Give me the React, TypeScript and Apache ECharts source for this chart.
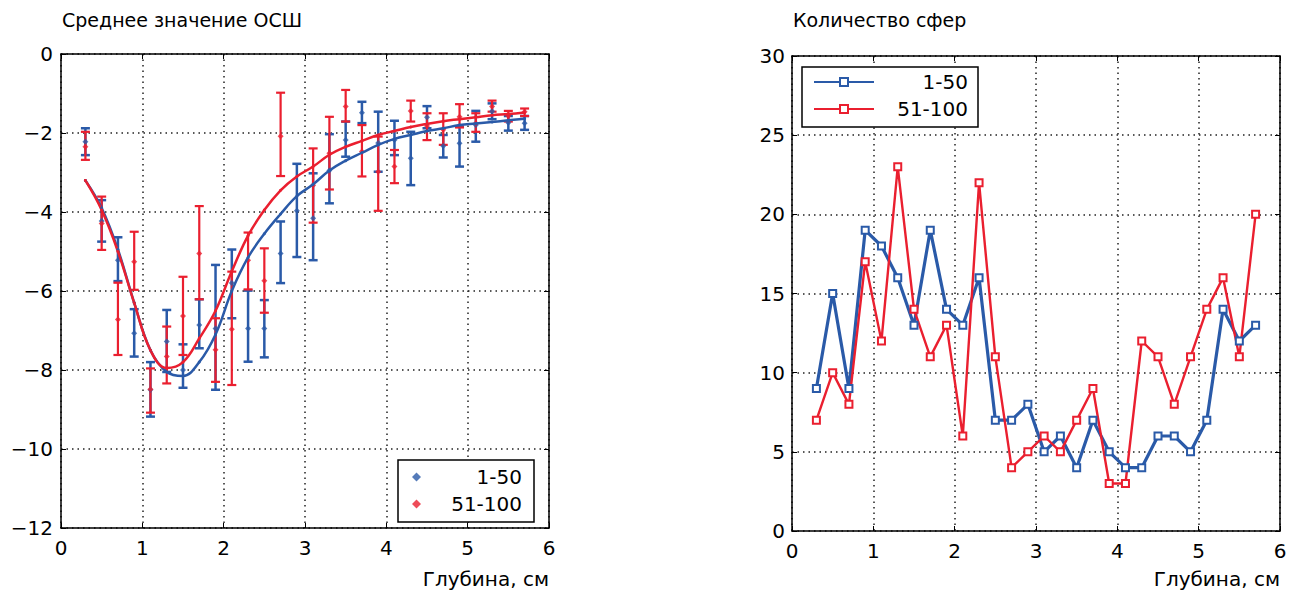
import React, { useEffect, useRef } from 'react';
import * as echarts from 'echarts';

// Depth positions (cm)
const depth = [0.3, 0.5, 0.7, 0.9, 1.1, 1.3, 1.5, 1.7, 1.9, 2.1, 2.3, 2.5, 2.7, 2.9, 3.1, 3.3, 3.5, 3.7, 3.9, 4.1, 4.3, 4.5, 4.7, 4.9, 5.1, 5.3, 5.5, 5.7];

// Left chart: mean SNR, group 1-50
const snrMean1 = [-2.22, -4.23, -5.22, -7.07, -8.5, -7.28, -8.0, -6.86, -6.95, -5.8, -6.95, -6.95, -5.05, -3.97, -4.16, -2.95, -2.18, -1.49, -2.25, -2.18, -2.64, -1.6, -2.33, -2.26, -1.8, -1.45, -1.74, -1.75];
const snrUpper1 = [-1.88, -3.7, -4.64, -6.46, -7.8, -6.48, -7.35, -6.21, -5.34, -4.95, -5.99, -6.23, -4.24, -2.78, -3.02, -2.03, -1.71, -1.21, -1.46, -1.69, -1.97, -1.32, -2.05, -1.84, -1.44, -1.25, -1.57, -1.57];
const snrLower1 = [-2.56, -4.75, -5.75, -7.66, -9.18, -8.05, -8.45, -7.45, -8.5, -6.69, -7.79, -7.68, -5.8, -5.14, -5.22, -3.78, -2.6, -1.75, -2.98, -2.56, -3.32, -1.88, -2.62, -2.85, -2.22, -1.65, -1.94, -1.92];

// Left chart: mean SNR, group 51-100
const snrMean2 = [-2.35, -4.29, -6.72, -5.26, -8.49, -7.66, -6.63, -5.05, -7.49, -6.97, -5.22, -5.74, -2.08, null, -3.32, -2.51, -1.33, -2.47, -2.98, -2.85, -1.44, -1.82, -1.92, -1.59, -1.75, -1.33, -1.57, -1.46];
const snrUpper2 = [-1.97, -3.61, -5.79, -4.5, -7.96, -6.9, -5.64, -3.85, -6.69, -5.51, -4.52, -4.92, -0.98, null, -2.39, -1.59, -0.91, -1.8, -2.09, -2.43, -1.18, -1.5, -1.5, -1.27, -1.5, -1.18, -1.44, -1.38];
const snrLower2 = [-2.68, -4.96, -7.62, -5.97, -9.08, -8.34, -7.62, -6.21, -8.3, -8.38, -5.96, -6.55, -3.09, null, -4.27, -3.43, -1.71, -3.1, -3.97, -3.27, -1.71, -2.18, -2.3, -1.86, -1.97, -1.46, -1.71, -1.57];

// Left chart: fitted curves
const snrFit1 = [-3.2, -3.9, -4.95, -6.3, -7.5, -8.05, -8.15, -7.8, -7.1, -6.0, -5.15, -4.55, -4.05, -3.6, -3.3, -2.95, -2.7, -2.5, -2.3, -2.15, -2.05, -1.95, -1.88, -1.8, -1.76, -1.72, -1.68, -1.64];
const snrFit2 = [-3.2, -3.95, -5.0, -6.3, -7.5, -7.95, -7.8, -7.2, -6.5, -5.5, -4.6, -3.95, -3.45, -3.1, -2.85, -2.55, -2.35, -2.2, -2.05, -1.95, -1.85, -1.77, -1.7, -1.65, -1.6, -1.55, -1.52, -1.48];

// Right chart: number of spheres
const count1 = [9, 15, 9, 19, 18, 16, 13, 19, 14, 13, 16, 7, 7, 8, 5, 6, 4, 7, 5, 4, 4, 6, 6, 5, 7, 14, 12, 13];
const count2 = [7, 10, 8, 17, 12, 23, 14, 11, 13, 6, 22, 11, 4, 5, 6, 5, 7, 9, 3, 3, 12, 11, 8, 11, 14, 16, 11, 20];

const legendLabels: Record<string, string> = { a1: '1-50', a2: '51-100', b1: '1-50', b2: '51-100' };
const titleLeft = 'Среднее значение ОСШ';
const titleRight = 'Количество сфер';
const xName = 'Глубина, см';

const BLUE = '#2a5aa8';
const RED = '#ea1f2f';
const FONT = '"DejaVu Sans", "Liberation Sans", sans-serif';

function errorBars(name: string, mean: (number | null)[], lo: (number | null)[], hi: (number | null)[], color: string, width: number) {
  const data = depth
    .map((d, i) => (mean[i] == null ? null : [d, mean[i], lo[i], hi[i]]))
    .filter((v) => v !== null);
  return {
    type: 'custom',
    name,
    xAxisIndex: 0,
    yAxisIndex: 0,
    data,
    encode: { x: 0, y: [1, 2, 3] },
    z: 2,
    renderItem: (params: any, api: any) => {
      const x = api.value(0);
      const top = api.coord([x, api.value(3)]);
      const bot = api.coord([x, api.value(2)]);
      const hw = 4.5;
      const style = { stroke: color, lineWidth: width, fill: 'none' };
      return {
        type: 'group',
        children: [
          { type: 'line', shape: { x1: top[0], y1: top[1], x2: bot[0], y2: bot[1] }, style },
          { type: 'line', shape: { x1: top[0] - hw, y1: top[1], x2: top[0] + hw, y2: top[1] }, style },
          { type: 'line', shape: { x1: bot[0] - hw, y1: bot[1], x2: bot[0] + hw, y2: bot[1] }, style },
        ],
      };
    },
  };
}

const axisLabelStyle = { fontSize: 20, color: '#000', fontFamily: FONT };
const dotted = { show: true, lineStyle: { color: '#222', type: [1.5, 4], width: 1.5 } };
const axLine = { show: true, onZero: false, lineStyle: { color: '#000', width: 1.5 } };
const tick = { show: true, inside: true, length: 5, lineStyle: { color: '#000', width: 1 } };

function xAxes(grid: number) {
  return [
    {
      gridIndex: grid, type: 'value', min: 0, max: 6, interval: 1, position: 'bottom',
      axisLine: axLine, axisTick: tick, splitLine: dotted,
      axisLabel: { ...axisLabelStyle, margin: 10 },
    },
    {
      gridIndex: grid, type: 'value', min: 0, max: 6, interval: 1, position: 'top',
      axisLine: axLine, axisTick: tick, splitLine: { show: false }, axisLabel: { show: false },
    },
  ];
}

function yAxes(grid: number, min: number, max: number, interval: number, margin: number) {
  return [
    {
      gridIndex: grid, type: 'value', min, max, interval, position: 'left',
      axisLine: axLine, axisTick: tick, splitLine: dotted,
      axisLabel: { ...axisLabelStyle, margin, formatter: (v: number) => String(v).replace('-', '\u2212') },
    },
    {
      gridIndex: grid, type: 'value', min, max, interval, position: 'right',
      axisLine: axLine, axisTick: tick, splitLine: { show: false }, axisLabel: { show: false },
    },
  ];
}

export default function App() {
  const ref = useRef<HTMLDivElement>(null);
  useEffect(() => {
    document.body.style.margin = '0';
    const chart = echarts.init(ref.current!, null, { renderer: 'svg' });
    const legendText = (w: number) => ({
      formatter: (name: string) => '{t|' + legendLabels[name] + '}',
      textStyle: {
        rich: { t: { width: w, align: 'right', fontSize: 20, lineHeight: 20, color: '#000', fontFamily: FONT } },
      },
    });
    chart.setOption({
      animation: false,
      backgroundColor: '#fff',
      textStyle: { fontFamily: FONT },
      grid: [
        { left: 61, top: 54, width: 488, height: 474 },
        { left: 792, top: 56, width: 488, height: 475 },
      ],
      xAxis: [...xAxes(0), ...xAxes(1)],
      yAxis: [...yAxes(0, -12, 0, 2, 8), ...yAxes(1, 0, 30, 5, 7)],
      legend: [
        {
          data: [{ name: 'a1', icon: 'diamond' }, { name: 'a2', icon: 'diamond' }],
          orient: 'vertical', left: 398, top: 460,
          borderColor: '#000', borderWidth: 1.5, padding: [7, 12, 8, 14],
          itemWidth: 9, itemHeight: 9, itemGap: 7, selectedMode: false,
          backgroundColor: '#fff',
          ...legendText(96),
        },
        {
          data: ['b1', 'b2'],
          orient: 'vertical', left: 802, top: 67,
          borderColor: '#000', borderWidth: 1.5, padding: [5, 10, 8, 11],
          itemWidth: 60, itemHeight: 10, itemGap: 7, selectedMode: false,
          backgroundColor: '#fff',
          ...legendText(89),
        },
      ],
      graphic: [
        { type: 'text', left: 62, top: 10, style: { text: titleLeft, fontSize: 19, fill: '#000', fontFamily: FONT } },
        { type: 'text', left: 793, top: 10, style: { text: titleRight, fontSize: 19, fill: '#000', fontFamily: FONT } },
        { type: 'text', right: 1296 - 549, top: 569, style: { text: xName, fontSize: 20, fill: '#000', fontFamily: FONT } },
        { type: 'text', right: 1296 - 1280, top: 569, style: { text: xName, fontSize: 20, fill: '#000', fontFamily: FONT } },
      ],
      series: [
        errorBars('e1', snrMean1, snrLower1, snrUpper1, BLUE, 2.5),
        {
          type: 'scatter', name: 'a1', xAxisIndex: 0, yAxisIndex: 0, symbol: 'diamond', symbolSize: 6, z: 3,
          itemStyle: { color: BLUE },
          data: depth.map((d, i) => [d, snrMean1[i]]),
        },
        errorBars('e2', snrMean2, snrLower2, snrUpper2, RED, 2.2),
        {
          type: 'scatter', name: 'a2', xAxisIndex: 0, yAxisIndex: 0, symbol: 'diamond', symbolSize: 6, z: 3,
          itemStyle: { color: RED },
          data: depth.map((d, i) => [d, snrMean2[i]]).filter((p) => p[1] !== null),
        },
        {
          type: 'line', name: 'f1', xAxisIndex: 0, yAxisIndex: 0, smooth: 0.4, z: 4,
          symbol: 'circle', symbolSize: 3, showSymbol: true,
          lineStyle: { color: BLUE, width: 2.5 }, itemStyle: { color: BLUE },
          data: depth.map((d, i) => [d, snrFit1[i]]),
        },
        {
          type: 'line', name: 'f2', xAxisIndex: 0, yAxisIndex: 0, smooth: 0.4, z: 4,
          symbol: 'circle', symbolSize: 3, showSymbol: true,
          lineStyle: { color: RED, width: 2.5 }, itemStyle: { color: RED },
          data: depth.map((d, i) => [d, snrFit2[i]]),
        },
        {
          type: 'line', name: 'b1', xAxisIndex: 2, yAxisIndex: 2,
          symbol: 'emptyRect', symbolSize: 7,
          lineStyle: { color: BLUE, width: 3.2 }, itemStyle: { color: BLUE, borderWidth: 2.5 },
          data: depth.map((d, i) => [d, count1[i]]),
        },
        {
          type: 'line', name: 'b2', xAxisIndex: 2, yAxisIndex: 2,
          symbol: 'emptyRect', symbolSize: 7,
          lineStyle: { color: RED, width: 2.4 }, itemStyle: { color: RED, borderWidth: 2 },
          data: depth.map((d, i) => [d, count2[i]]),
        },
      ],
    });
    return () => chart.dispose();
  }, []);
  return <div ref={ref} style={{ width: 1296, height: 595 }} />;
}
